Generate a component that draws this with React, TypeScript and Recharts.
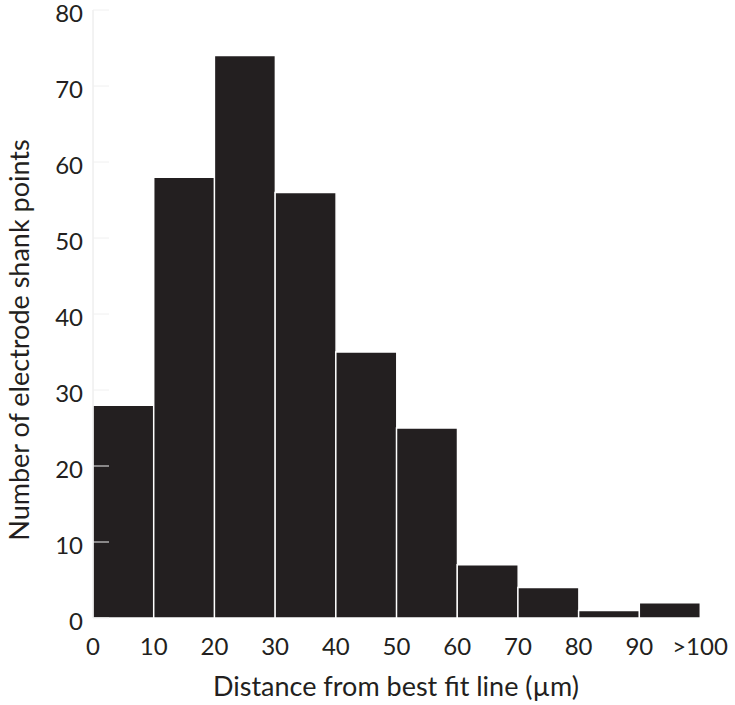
import React from "react";
import { BarChart, Bar, XAxis, YAxis } from "recharts";

const bins = ["0-10", "10-20", "20-30", "30-40", "40-50", "50-60", "60-70", "70-80", "80-90", "90-100"];
const counts = [28, 58, 74, 56, 35, 25, 7, 4, 1, 2];
const xTickLabels = ["0", "10", "20", "30", "40", "50", "60", "70", "80", "90", ">100"];
const yTicks = [0, 10, 20, 30, 40, 50, 60, 70, 80];

const data = bins.map((bin, i) => ({ bin, count: counts[i] }));

const font = "Lato, 'Open Sans', sans-serif";
const ink = "#231f20";
const plotWidth = 607;
const band = plotWidth / bins.length;

// x labels sit on the bin edges, not the bin centres
const EdgeTick = (props: any) => {
  const { x, y, payload } = props;
  const i = payload.index;
  const left = x - band / 2;
  return (
    <g>
      <text x={left} y={y + 37} textAnchor="middle" fontFamily={font} fontSize={24} fill={ink}>
        {xTickLabels[i]}
      </text>
      {i === bins.length - 1 && (
        <text x={x + band / 2} y={y + 37} textAnchor="middle" fontFamily={font} fontSize={24} fill={ink}>
          {xTickLabels[i + 1]}
        </text>
      )}
    </g>
  );
};

const InsideTick = (props: any) => {
  const { x, y, payload } = props;
  return (
    <g>
      <line x1={x + 10} x2={x + 26} y1={y} y2={y} stroke="#f0f0f0" strokeWidth={1} />
      <text x={x} y={y + 11.5} textAnchor="end" fontFamily={font} fontSize={24} fill={ink}>
        {payload.value}
      </text>
    </g>
  );
};

const YLabel = () => (
  <text
    x={18}
    y={340}
    transform="rotate(-90, 18, 340)"
    textAnchor="middle"
    dominantBaseline="central"
    fontFamily={font}
    fontSize={27}
    fill={ink}
  >
    Number of electrode shank points
  </text>
);

const XLabel = () => (
  <text x={396} y={696} textAnchor="middle" fontFamily={font} fontSize={27} fill={ink}>
    Distance from best fit line (µm)
  </text>
);

export default function App() {
  return (
    <div style={{ position: "absolute", left: 0, top: 0 }}>
      <BarChart
        width={735}
        height={705}
        data={data}
        barCategoryGap={0}
        margin={{ top: 10, right: 35, left: 0, bottom: 0 }}
      >
        <XAxis
          dataKey="bin"
          axisLine={false}
          tickLine={false}
          tickSize={0}
          tickMargin={0}
          interval={0}
          height={87}
          tick={<EdgeTick />}
          label={<XLabel />}
        />
        <YAxis
          width={93}
          domain={[0, 80]}
          ticks={yTicks}
          interval={0}
          stroke="#e6e6e6"
          tickLine={false}
          tickSize={0}
          tickMargin={10}
          tick={<InsideTick />}
          label={<YLabel />}
        />
        <Bar
          dataKey="count"
          fill={ink}
          stroke="#ffffff"
          strokeWidth={1.5}
          isAnimationActive={false}
        />
      </BarChart>
    </div>
  );
}
